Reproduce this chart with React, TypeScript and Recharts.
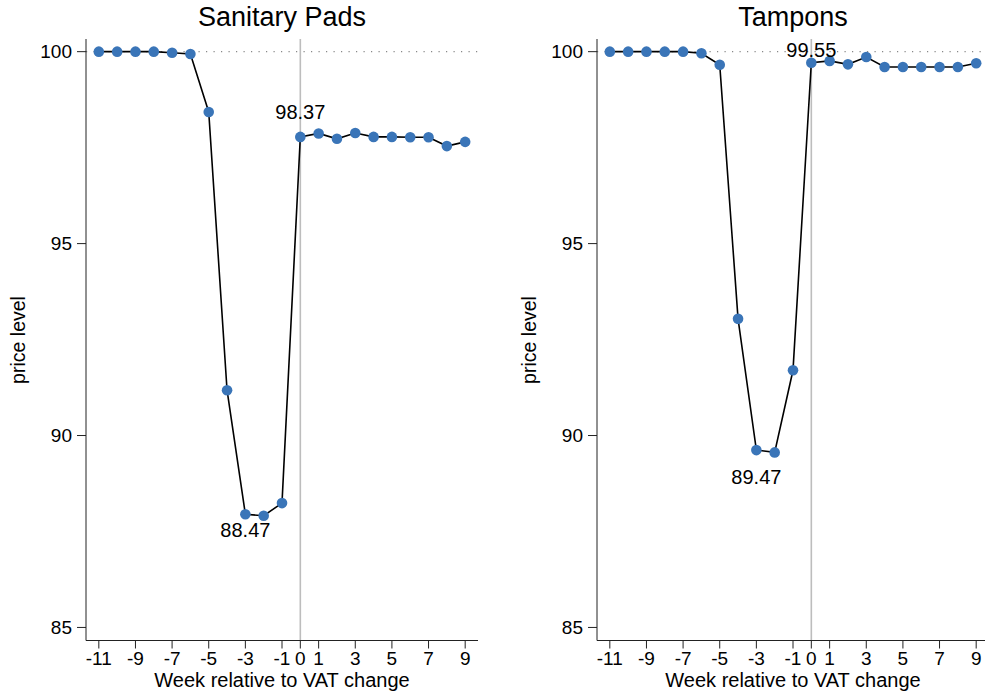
import React from 'react';
import { LineChart, Line, XAxis, YAxis, ReferenceLine, ReferenceDot } from 'recharts';

const weeks = [-11, -10, -9, -8, -7, -6, -5, -4, -3, -2, -1, 0, 1, 2, 3, 4, 5, 6, 7, 8, 9];
const padsValues = [100, 100, 100, 100, 99.97, 99.94, 98.43, 91.18, 87.95, 87.91, 88.24, 97.78, 97.87, 97.73, 97.88, 97.78, 97.78, 97.77, 97.77, 97.54, 97.65];
const tamponValues = [100, 100, 100, 100, 100, 99.96, 99.66, 93.04, 89.62, 89.56, 91.7, 99.71, 99.76, 99.67, 99.86, 99.6, 99.6, 99.6, 99.6, 99.6, 99.7];
const xTicks = [-11, -9, -7, -5, -3, -1, 0, 1, 3, 5, 7, 9];
const yTicks = [85, 90, 95, 100];
const padsNotes = [
  { x: 0, y: 98.43, text: '98.37' },
  { x: -3, y: 87.54, text: '88.47' },
];
const tamponNotes = [
  { x: 0, y: 100.04, text: '99.55' },
  { x: -3, y: 88.93, text: '89.47' },
];

const FONT = 'Arial, "Liberation Sans", Helvetica, sans-serif';

type Note = { x: number; y: number; text: string };

function Panel({ title, values, notes, left }: { title: string; values: number[]; notes: Note[]; left: number }) {
  const data = weeks.map((w, i) => ({ week: w, value: values[i] }));
  return (
    <div style={{ position: 'absolute', left, top: 0, width: 490, height: 697 }}>
      <div
        style={{
          position: 'absolute',
          left: 86,
          width: 392,
          top: 4,
          textAlign: 'center',
          fontFamily: FONT,
          fontSize: 27,
          lineHeight: '27px',
          color: '#000',
          whiteSpace: 'nowrap',
        }}
      >
        {title}
      </div>
      <LineChart
        width={490}
        height={697}
        data={data}
        margin={{ top: 39, right: 12, bottom: 6.5, left: 0 }}
        style={{ position: 'absolute', left: 0, top: 0 }}
      >
        <XAxis
          dataKey="week"
          type="number"
          domain={[-11.7, 9.7]}
          ticks={xTicks}
          interval={0}
          allowDataOverflow
          height={50}
          tickSize={8}
          tickMargin={3}
          stroke="#222"
          tick={{ fill: '#000', fontSize: 19, fontFamily: FONT }}
          label={{
            content: (p: any) => {
              const vb = p.viewBox || { x: 86, width: 392 };
              return (
                <text x={vb.x + vb.width / 2} y={687} textAnchor="middle" fontSize={20} fontFamily={FONT} fill="#000">
                  Week relative to VAT change
                </text>
              );
            },
          }}
        />
        <YAxis
          type="number"
          domain={[84.66, 100.33]}
          ticks={yTicks}
          interval={0}
          allowDataOverflow
          width={86}
          tickSize={9}
          tickMargin={5}
          stroke="#222"
          tick={{ fill: '#000', fontSize: 19, fontFamily: FONT }}
          label={{
            content: () => (
              <text x={25} y={340} transform="rotate(-90, 25, 340)" textAnchor="middle" fontSize={19.5} fontFamily={FONT} fill="#000">
                price level
              </text>
            ),
          }}
        />
        <ReferenceLine y={100} stroke="#888" strokeWidth={1.2} strokeDasharray="1.2 6.3" />
        <ReferenceLine x={0} stroke="#bdbdbd" strokeWidth={1.6} />
        <Line
          dataKey="value"
          stroke="#000"
          strokeWidth={1.6}
          isAnimationActive={false}
          dot={{ r: 5.3, fill: '#3a75b8', stroke: '#3a75b8', strokeWidth: 0 }}
          activeDot={false}
        />
        {notes.map((n) => (
          <ReferenceDot
            key={n.text}
            x={n.x}
            y={n.y}
            r={0}
            ifOverflow="visible"
            shape={(p: any) => (
              <text x={p.cx} y={p.cy} textAnchor="middle" dominantBaseline="central" fontSize={20} fontFamily={FONT} fill="#000">
                {n.text}
              </text>
            )}
          />
        ))}
      </LineChart>
    </div>
  );
}

export default function App() {
  return (
    <div
      style={{
        position: 'absolute',
        left: 0,
        top: 0,
        width: 985,
        height: 697,
        overflow: 'hidden',
        background: '#fff',
      }}
    >
      <Panel title="Sanitary Pads" values={padsValues} notes={padsNotes} left={0} />
      <Panel title="Tampons" values={tamponValues} notes={tamponNotes} left={511} />
    </div>
  );
}
